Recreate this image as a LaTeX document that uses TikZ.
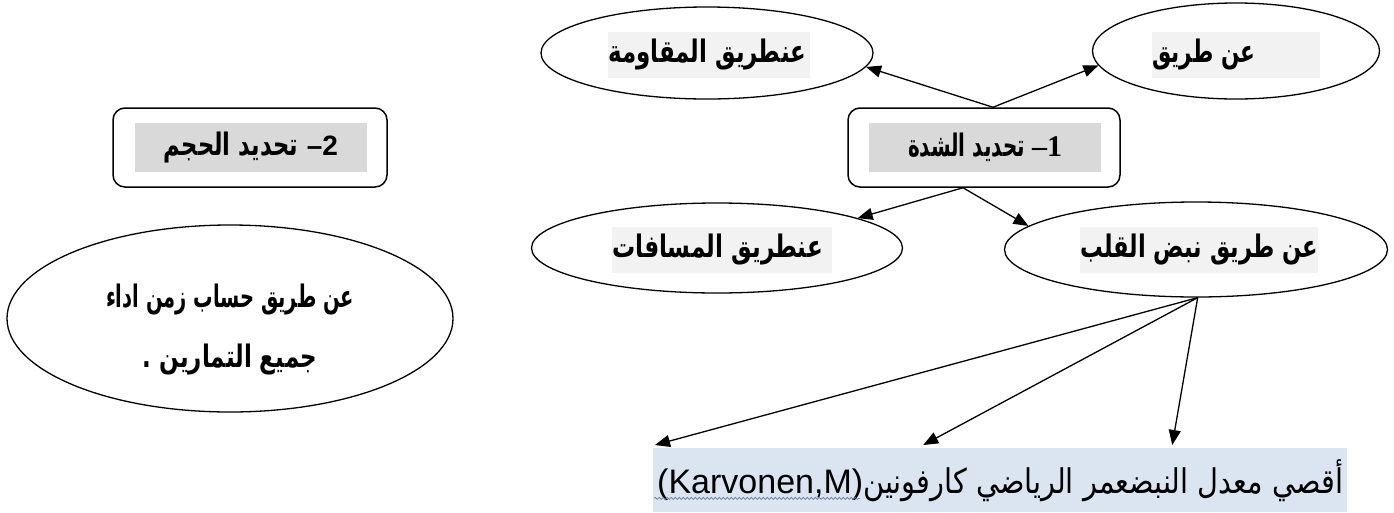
\documentclass[tikz,border=0pt]{standalone}
\usepackage{graphicx}
\usepackage{fontspec}
\setmainfont{Liberation Sans}
\newfontfamily\ar[Script=Arabic]{DejaVu Sans}
\newfontfamily\serifb{Liberation Serif}
\TeXXeTstate=1
\usetikzlibrary{shapes.geometric,arrows.meta,decorations.pathmorphing}
\definecolor{hlgray}{HTML}{F2F2F2}
\definecolor{taggray}{HTML}{D9D9D9}
\definecolor{hlblue}{HTML}{DBE5F1}
\definecolor{squig}{HTML}{6A7A99}
% bold Arabic run brought to a given width
\newcommand{\fitar}[2]{\resizebox{#1}{\height}{\ar\bfseries\fontsize{31}{35}\selectfont #2}}
\begin{document}
\begin{tikzpicture}[x=1pt,y=-1pt,
  oval/.style={draw, ellipse, line width=1.3pt, inner sep=0pt},
  card/.style={draw, rounded corners=12pt, line width=1.5pt, minimum width=272pt, minimum height=79pt, inner sep=0pt},
  tag/.style={fill=taggray, inner sep=0pt, minimum width=232pt, minimum height=49pt},
  hl/.style={fill=hlgray, inner sep=0pt, minimum height=46pt, anchor=west},
  arr/.style={line width=1.3pt, -{Triangle[length=15pt,width=12pt]}}]
\useasboundingbox (0,0) rectangle (1394,512);

% boxes for the two steps (number set at the right end, dash before it)
\node[card] (b1) at (984,147.5) {};
\node[tag] (t1) at (985,147.5)
  {\hbox{\fitar{117pt}{\beginR تحديد الشدة\endR}}\hspace{7pt}\hbox{\serifb\bfseries\fontsize{30}{34}\selectfont\hbox{–}\hbox{1}}};
\node[card, minimum width=274pt] (b2) at (250,147.5) {};
\node[tag] (t2) at (251,147.5)
  {\hbox{\fitar{134pt}{\beginR تحديد الحجم\endR}}\hspace{9pt}\hbox{\bfseries\fontsize{28}{32}\selectfont\hbox{–}\hbox{2}}};

% ovals around step 1
\node[oval, minimum width=332pt, minimum height=92pt] (e1) at (707,53) {};
\node[hl, minimum width=202pt] (h1) at (608,55) {\makebox[202pt][l]{\fitar{198pt}{\beginR عنطريق المقاومة\endR}}};

\node[oval, minimum width=287pt, minimum height=96pt] (e2) at (1236,51) {};
\node[hl, minimum width=168pt] (h2) at (1152,55) {\makebox[168pt][l]{\fitar{103pt}{\beginR عن طريق\endR}}};

\node[oval, minimum width=371pt, minimum height=90pt] (e3) at (717,248) {};
\node[hl, minimum width=220pt] (h3) at (612,250) {\makebox[220pt][l]{\fitar{211pt}{\beginR عنطريق المسافات\endR}}};

\node[oval, minimum width=383pt, minimum height=95pt] (e4) at (1196,249.5) {};
\node[hl, minimum width=238pt] (h4) at (1080,250) {\makebox[238pt][l]{\fitar{238pt}{\beginR عن طريق نبض القلب\endR}}};

% oval for step 2
\node[oval, minimum width=446pt, minimum height=187pt, align=center] (e5) at (230,318.5)
  {\hbox{\rule{0pt}{45pt}\fitar{248pt}{\beginR عن طريق حساب زمن اداء\endR}}\\[28pt]\hbox{\fitar{174pt}{\beginR جميع التمارين .\endR}}};

% Karvonen formula line
\node[fill=hlblue, inner sep=0pt, minimum width=694pt, minimum height=64pt, anchor=north west] (kv) at (653,448)
  {\fontsize{34}{40}\selectfont\hbox{(}\hbox{Karvonen,M}\hbox{)}\hbox{\resizebox{480pt}{\height}{\ar\fontsize{34}{40}\selectfont\beginR أقصي معدل النبضعمر  الرياضي كارفونين\endR}}};
\draw[squig, line width=0.6pt, decorate, decoration={snake, amplitude=1pt, segment length=4pt}]
  ([xshift=1pt,yshift=14pt]kv.south west) -- ([xshift=207pt,yshift=14pt]kv.south west);

% connectors
\draw[arr] ([xshift=9pt]b1.north) -- (e1.-5);
\draw[arr] ([xshift=9pt]b1.north) -- (e2.186);
\draw[arr] ([xshift=-21pt]b1.south) -- (e3.12);
\draw[arr] ([xshift=-21pt]b1.south) -- (e4.172);
\draw[arr] (e4.-88) -- ([xshift=2pt,yshift=3pt]kv.north west);
\draw[arr] (e4.-88) -- ([xshift=-77pt,yshift=3pt]kv.north);
\draw[arr] (e4.-88) -- ([xshift=172pt,yshift=3pt]kv.north);
\end{tikzpicture}
\end{document}
